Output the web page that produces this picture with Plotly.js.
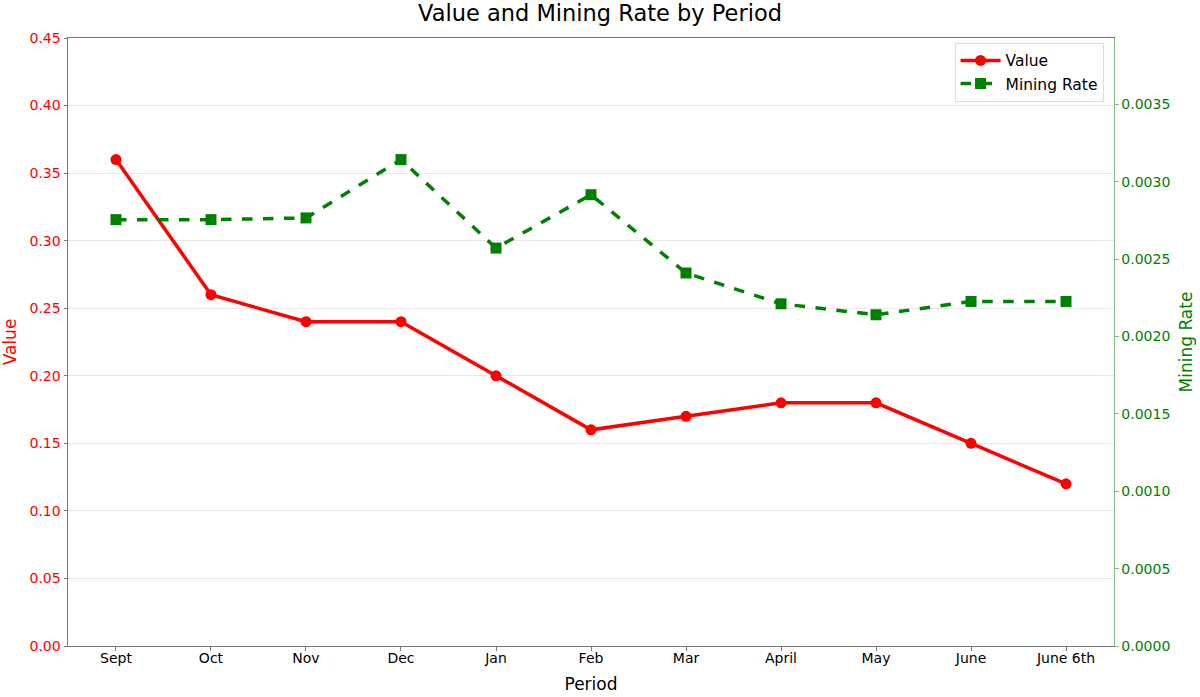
<!DOCTYPE html>
<html>
<head>
<meta charset="utf-8">
<script src="https://cdn.plot.ly/plotly-3.0.1.min.js"></script>
<style>html,body{margin:0;padding:0;background:#fff;}#chart{width:1200px;height:697px;}</style>
</head>
<body>
<div id="chart"></div>
<script>
const periods = ["Sept","Oct","Nov","Dec","Jan","Feb","Mar","April","May","June","June 6th"];
const values = [0.36,0.26,0.24,0.24,0.20,0.16,0.17,0.18,0.18,0.15,0.12];
const miningRates = [0.002756,0.002756,0.002767,0.003144,0.002572,0.002917,0.002411,0.002212,0.002141,0.002227,0.002227];
const leftTicks = [0,0.05,0.10,0.15,0.20,0.25,0.30,0.35,0.40,0.45];
const rightTicks = [0,0.0005,0.0010,0.0015,0.0020,0.0025,0.0030,0.0035];

const font = "DejaVu Sans, sans-serif";

const traces = [
  {x: periods, y: values, name: "Value", type: "scatter", mode: "lines+markers",
   line: {color: "red", width: 3.5}, marker: {color: "red", size: 11, symbol: "circle"}, yaxis: "y"},
  {x: periods, y: miningRates, name: "Mining Rate", type: "scatter", mode: "lines+markers",
   line: {color: "green", width: 3.5, dash: "dash"}, marker: {color: "green", size: 11, symbol: "square"}, yaxis: "y2"}
];

const layout = {
  width: 1200, height: 697,
  margin: {l: 68, r: 86, t: 38, b: 51},
  paper_bgcolor: "#fff", plot_bgcolor: "#fff",
  font: {family: font, size: 14, color: "#000"},
  title: {text: "Value and Mining Rate by Period", font: {family: font, size: 22.5, color: "#000"}, x: 0.5, xanchor: "center", y: 0.993, yanchor: "top"},
  showlegend: true,
  legend: {x: 0.99, y: 0.992, xanchor: "right", yanchor: "top", bgcolor: "rgba(255,255,255,0.9)", bordercolor: "#dddddd", borderwidth: 1, itemwidth: 40, font: {family: font, size: 15.5}},
  xaxis: {
    type: "category", range: [-0.505, 10.505],
    title: {text: "Period", font: {family: font, size: 17}, standoff: 12},
    showgrid: false, showline: true, linecolor: "#777", linewidth: 1, mirror: true,
    ticks: "outside", ticklen: 3.5, tickcolor: "#777", ticklabelstandoff: -4, tickfont: {family: font, size: 14}, zeroline: false
  },
  yaxis: {
    range: [0, 0.45], tickvals: leftTicks, ticktext: leftTicks.map(v => v.toFixed(2)),
    title: {text: "Value", font: {family: font, size: 17, color: "red"}, standoff: 12},
    tickfont: {family: font, size: 14, color: "red"},
    showgrid: true, gridcolor: "#e8e8e8", gridwidth: 1,
    showline: true, linecolor: "#777", linewidth: 1,
    ticks: "outside", ticklen: 3.5, tickcolor: "#777", zeroline: false
  },
  yaxis2: {
    overlaying: "y", side: "right", range: [0, 0.00393],
    tickvals: rightTicks, ticktext: rightTicks.map(v => v.toFixed(4)),
    title: {text: "Mining Rate", font: {family: font, size: 17, color: "green"}, standoff: 10},
    tickfont: {family: font, size: 14, color: "green"},
    showgrid: false, showline: true, linecolor: "#7fbf7f", linewidth: 1,
    ticks: "outside", ticklen: 3.5, tickcolor: "#7fbf7f", zeroline: false
  }
};

Plotly.newPlot("chart", traces, layout, {displayModeBar: false, staticPlot: true});
</script>
</body>
</html>
